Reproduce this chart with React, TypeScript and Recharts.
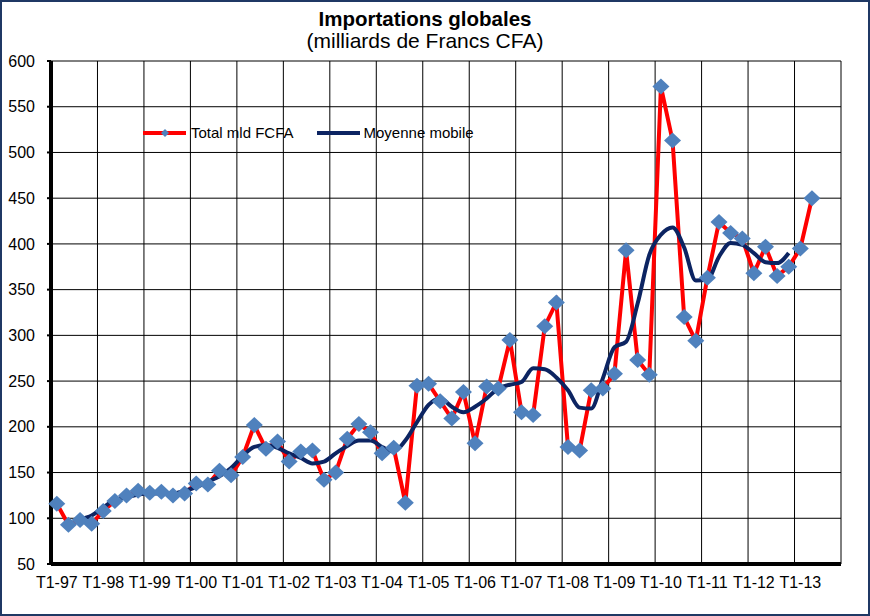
import React from 'react';
import { LineChart, Line, XAxis, YAxis, CartesianGrid, ReferenceLine } from 'recharts';

// quarterly imports, T1-97 .. T2-13 (billions FCFA)
const totalMld = [
  116, 93, 98, 94, 108, 119, 125, 130, 128, 129, 125, 127, 138, 137, 152, 147,
  167, 202, 176, 184, 162, 173, 174, 142, 150, 187, 203, 194, 171, 177, 117, 245,
  247, 228, 209, 238, 182, 244, 242, 295, 216, 213, 310, 336, 178, 174, 240, 242,
  258, 393, 273, 257, 572, 513, 320, 294, 363, 424, 412, 406, 368, 397, 365, 375,
  395, 450,
];

// moving average as drawn (starts at 3rd quarter, stops 2 quarters before the end)
const moyenneMobile = [
  null, null, 99, 103, 112, 120, 123, 126, 127, 127, 127, 130, 134, 140, 146, 155,
  168, 178, 180, 177, 171, 166, 160, 162, 171, 179, 185, 185, 178, 173, 185, 205,
  224, 231, 222, 216, 222, 231, 242, 246, 249, 264, 263, 254, 240, 221, 220, 253,
  287, 293, 335, 388, 410, 418, 396, 360, 361, 386, 401, 399, 390, 380, 379, 390,
  null, null,
];

const tickLabels = [
  'T1-97', 'T1-98', 'T1-99', 'T1-00', 'T1-01', 'T1-02', 'T1-03', 'T1-04', 'T1-05',
  'T1-06', 'T1-07', 'T1-08', 'T1-09', 'T1-10', 'T1-11', 'T1-12', 'T1-13',
];

const yTicks = [50, 100, 150, 200, 250, 300, 350, 400, 450, 500, 550, 600];

const CATEGORY_COUNT = 68;
const labelTicks = tickLabels.map((_, i) => i * 4);
const boundaryTicks = Array.from({ length: CATEGORY_COUNT / 4 + 1 }, (_, i) => i * 4 - 0.5);

const data = totalMld.map((v, i) => ({ idx: i, total: v, moyenne: moyenneMobile[i] }));

const FONT = '"Liberation Sans", Arial, sans-serif';
const RED = '#FF0000';
const NAVY = '#0C2462';
const DIAMOND = '#4F81BD';

const Diamond = (props: any) => {
  const { cx, cy, index } = props;
  if (cx == null || cy == null) return <g key={index} />;
  const rx = 8.5;
  const ry = 8;
  return (
    <polygon
      key={index}
      points={`${cx},${cy - ry} ${cx + rx},${cy} ${cx},${cy + ry} ${cx - rx},${cy}`}
      fill={DIAMOND}
    />
  );
};

const XLabel = (props: any) => {
  const { x, y, payload } = props;
  return (
    <text x={x} y={y + 21} textAnchor="middle" fontSize={16} fontFamily={FONT} fill="#000">
      {tickLabels[payload.value / 4]}
    </text>
  );
};

const ChartLegend = () => (
  <div
    style={{
      position: 'absolute', left: 143, top: 124, display: 'flex', alignItems: 'center',
      fontFamily: FONT, fontSize: 15, color: '#000', lineHeight: '18px',
    }}
  >
    <svg width={44} height={10} style={{ marginRight: 4 }}>
      <line x1={0} y1={5} x2={43} y2={5} stroke={RED} strokeWidth={4} />
      <polygon points="22,1 26,5 22,9 18,5" fill={DIAMOND} />
    </svg>
    <span style={{ marginRight: 23 }}>Total mld FCFA</span>
    <svg width={44} height={10} style={{ marginRight: 3 }}>
      <line x1={0} y1={5} x2={43} y2={5} stroke={NAVY} strokeWidth={4} />
    </svg>
    <span>Moyenne mobile</span>
  </div>
);

export default function App() {
  return (
    <div style={{ position: 'absolute', left: 0, top: 0, width: 870, height: 616, background: '#fff' }}>
      <div style={{ position: 'absolute', left: 0, top: 0 }}>
        <LineChart
          width={870}
          height={616}
          data={data}
          margin={{ top: 61, right: 29, left: 50, bottom: 50 }}
        >
          <CartesianGrid vertical={false} stroke="#000" strokeWidth={1} />
          {boundaryTicks.map((b) => (
            <ReferenceLine key={b} xAxisId="bounds" x={b} stroke="#000" strokeWidth={1} />
          ))}
          <XAxis
            xAxisId="bounds"
            dataKey="idx"
            type="number"
            domain={[-0.5, CATEGORY_COUNT - 0.5]}
            ticks={boundaryTicks}
            interval={0}
            height={1}
            tick={false}
            tickSize={4}
            axisLine={{ stroke: '#000', strokeWidth: 4 }}
            tickLine={{ stroke: '#000', strokeWidth: 2 }}
          />
          <XAxis
            xAxisId="labels"
            dataKey="idx"
            type="number"
            domain={[-0.5, CATEGORY_COUNT - 0.5]}
            ticks={labelTicks}
            interval={0}
            height={1}
            axisLine={false}
            tickLine={false}
            tickSize={0}
            tick={<XLabel />}
          />
          <YAxis
            domain={[50, 600]}
            ticks={yTicks}
            interval={0}
            width={1}
            tickSize={4}
            tickMargin={12}
            axisLine={{ stroke: '#000', strokeWidth: 4 }}
            tickLine={{ stroke: '#000', strokeWidth: 2 }}
            tick={{ fontSize: 16, fontFamily: FONT, fill: '#000' }}
          />
          <Line
            xAxisId="labels"
            dataKey="total"
            name="Total mld FCFA"
            type="linear"
            stroke={RED}
            strokeWidth={4}
            dot={<Diamond />}
            activeDot={false}
            isAnimationActive={false}
          />
          <Line
            xAxisId="labels"
            dataKey="moyenne"
            name="Moyenne mobile"
            type="monotone"
            stroke={NAVY}
            strokeWidth={4}
            dot={false}
            activeDot={false}
            connectNulls={false}
            isAnimationActive={false}
          />
        </LineChart>
      </div>
      <svg
        width={870}
        height={60}
        style={{ position: 'absolute', left: 0, top: 0, pointerEvents: 'none' }}
      >
        <text x={425} y={26} textAnchor="middle" fontFamily={FONT} fontWeight="bold" fontSize={20.5} fill="#000">
          Importations globales
        </text>
        <text x={425} y={48} textAnchor="middle" fontFamily={FONT} fontSize={21} fill="#000">
          (milliards de Francs CFA)
        </text>
      </svg>
      <ChartLegend />
      <div
        style={{
          position: 'absolute', left: 0, top: 0, width: 870, height: 616, boxSizing: 'border-box',
          border: '2px solid #1F3864', pointerEvents: 'none',
        }}
      />
    </div>
  );
}
